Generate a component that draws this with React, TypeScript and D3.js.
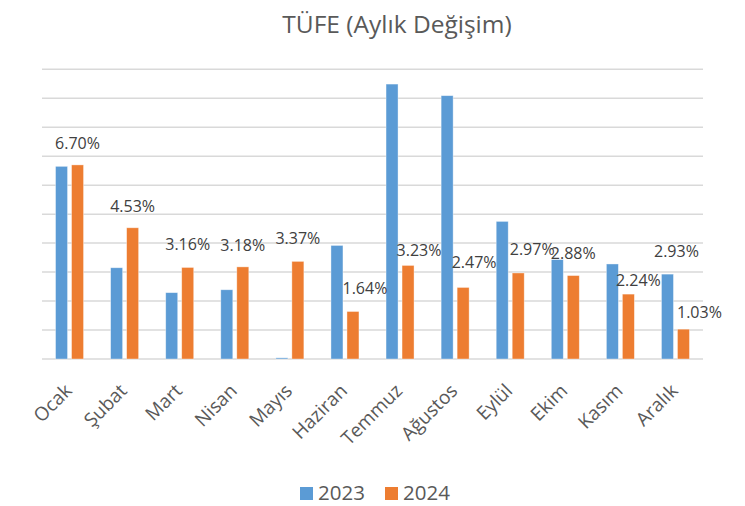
import React, { useEffect, useRef } from "react";
import * as d3 from "d3";

const months = ["Ocak", "Şubat", "Mart", "Nisan", "Mayıs", "Haziran", "Temmuz", "Ağustos", "Eylül", "Ekim", "Kasım", "Aralık"];
const seriesNames = ["2023", "2024"];
const values2023 = [6.65, 3.15, 2.29, 2.39, 0.04, 3.92, 9.49, 9.09, 4.75, 3.43, 3.28, 2.93];
const values2024 = [6.7, 4.53, 3.16, 3.18, 3.37, 1.64, 3.23, 2.47, 2.97, 2.88, 2.24, 1.03];
const yTicks = [0, 1, 2, 3, 4, 5, 6, 7, 8, 9, 10];

// data labels as placed by hand in the original: [series, month index, dx, dy above bar]
const labelPlacements: [number, number, number, number][] = [
  [1, 0, 0, 16], [1, 1, 0, 16], [1, 2, 0, 17], [1, 3, 0, 16],
  [1, 4, 0, 17], [1, 5, 12, 17], [1, 6, 11, 9], [1, 7, 11, 19],
  [1, 8, 14, 18], [1, 9, 0, 17], [1, 10, 10, 8], [1, 11, 16, 11],
  [0, 11, 9, 17],
];

const colors = ["#5B9BD5", "#ED7D31"];
const W = 745;
const H = 506;
const FONT = "'Open Sans', sans-serif";

const App: React.FC = () => {
  const svgRef = useRef<SVGSVGElement | null>(null);

  useEffect(() => {
    if (!svgRef.current) return;
    const svg = d3.select(svgRef.current);
    svg.selectAll("*").remove();

    const series = [values2023, values2024];

    const x = d3.scaleBand<string>().domain(months).range([42, 703]);
    const x1 = d3
      .scaleBand<string>()
      .domain(seriesNames)
      .range([x.bandwidth() / 2 - 14, x.bandwidth() / 2 + 14])
      .paddingInner(0.25);
    const y = d3.scaleLinear().domain([0, 10]).range([359, 69.3]);

    // title
    svg
      .append("text")
      .attr("x", 397)
      .attr("y", 33)
      .attr("text-anchor", "middle")
      .attr("font-family", FONT)
      .attr("font-size", 24.5)
      .attr("fill", "#595959")
      .text("TÜFE (Aylık Değişim)");

    // gridlines
    svg
      .append("g")
      .selectAll("line")
      .data(yTicks)
      .enter()
      .append("line")
      .attr("x1", 42)
      .attr("x2", 703)
      .attr("y1", (d) => y(d))
      .attr("y2", (d) => y(d))
      .attr("stroke", "#D9D9D9")
      .attr("stroke-width", 1.5);

    // bars
    series.forEach((vals, si) => {
      svg
        .append("g")
        .selectAll("rect")
        .data(vals)
        .enter()
        .append("rect")
        .attr("x", (_, i) => (x(months[i]) as number) + (x1(seriesNames[si]) as number))
        .attr("y", (d) => y(d))
        .attr("width", x1.bandwidth())
        .attr("height", (d) => y(0) - y(d))
        .attr("fill", colors[si])
        .attr("stroke", "#ffffff")
        .attr("stroke-opacity", 0.5)
        .attr("stroke-width", 0.75);
    });

    // data labels
    svg
      .append("g")
      .selectAll("text")
      .data(labelPlacements)
      .enter()
      .append("text")
      .attr("x", ([si, i, dx]) =>
        (x(months[i]) as number) + (x1(seriesNames[si]) as number) + x1.bandwidth() / 2 + dx
      )
      .attr("y", ([si, i, , dy]) => y(series[si][i]) - dy)
      .attr("text-anchor", "middle")
      .attr("font-family", FONT)
      .attr("font-size", 16)
      .attr("fill", "#404040")
      .text(([si, i]) => series[si][i].toFixed(2) + "%");

    // x axis labels, rotated 45 degrees
    svg
      .append("g")
      .selectAll("text")
      .data(months)
      .enter()
      .append("text")
      .attr("x", (d) => (x(d) as number) + x.bandwidth() / 2 + 3.5)
      .attr("y", 392)
      .attr("transform", (d) => `rotate(-45 ${(x(d) as number) + x.bandwidth() / 2 + 3.5} 392)`)
      .attr("text-anchor", "end")
      .attr("font-family", FONT)
      .attr("font-size", 19)
      .attr("fill", "#595959")
      .text((d) => d);

    // legend
    const legend = svg.append("g");
    const legendX = [300, 385];
    seriesNames.forEach((name, si) => {
      legend
        .append("rect")
        .attr("x", legendX[si])
        .attr("y", 487)
        .attr("width", 13)
        .attr("height", 13)
        .attr("fill", colors[si]);
      legend
        .append("text")
        .attr("x", legendX[si] + 18)
        .attr("y", 500)
        .attr("font-family", FONT)
        .attr("font-size", 20.5)
        .attr("fill", "#595959")
        .text(name);
    });
  }, []);

  return (
    <svg
      ref={svgRef}
      width={W}
      height={H}
      style={{ position: "absolute", left: 0, top: 0, background: "#fff" }}
    />
  );
};

export default App;
